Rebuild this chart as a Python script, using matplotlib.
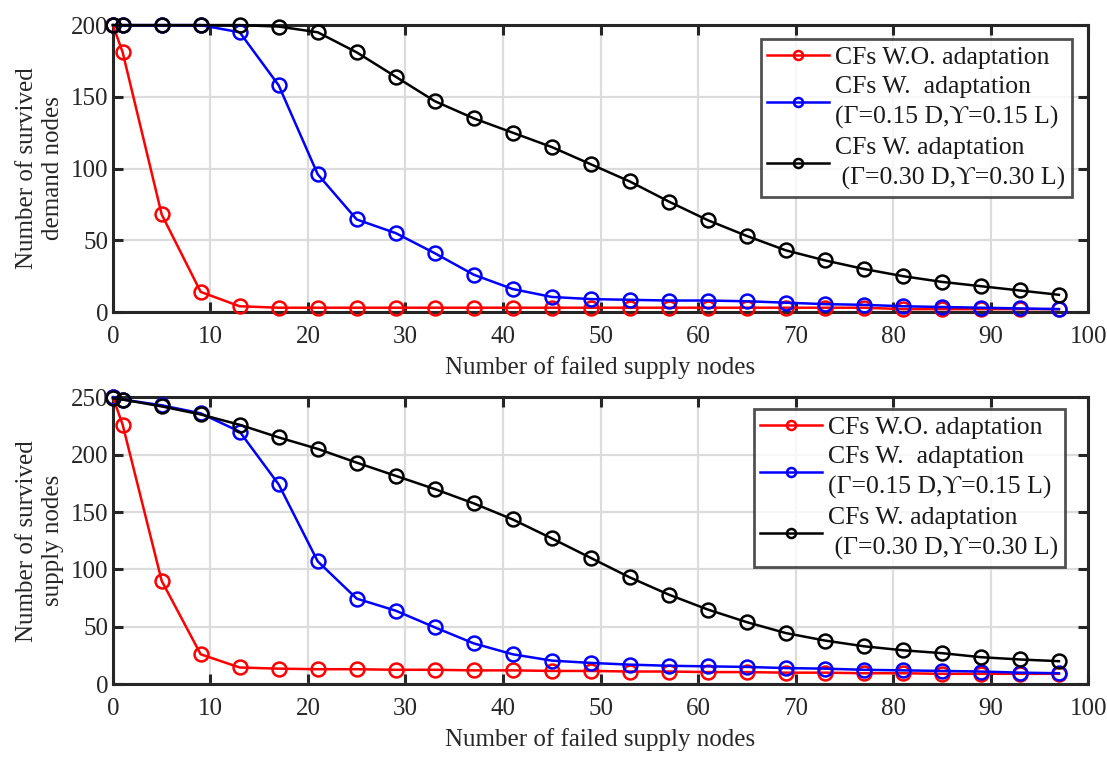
import numpy as np
import matplotlib
matplotlib.use("Agg")
import matplotlib.pyplot as plt

plt.rcParams['font.family'] = ['Liberation Serif', 'DejaVu Serif']

# failed supply nodes
failed = [0, 1, 5, 9, 13, 17, 21, 25, 29, 33, 37, 41, 45, 49, 53, 57, 61, 65, 69, 73, 77, 81, 85, 89, 93, 97]

# surviving demand nodes (top panel)
demand_wo = [200, 181, 68, 14, 4, 3, 3, 3, 3, 3, 3, 3, 3, 3, 3, 3, 3, 3, 3, 3, 3, 2, 2, 2, 2, 2]
demand_w15 = [200, 200, 200, 200, 195, 158, 96, 64.5, 55, 41, 26, 16, 10.5, 9, 8.5, 8, 8, 7.5, 6.5, 5.5, 5, 4, 3.5, 3, 2.5, 2]
demand_w30 = [200, 200, 200, 200, 200, 199, 195, 181, 164, 147, 135, 125, 115, 103, 91, 77, 64, 53, 43, 36, 30, 25, 21, 18, 15, 12]

# surviving supply nodes (bottom panel)
supply_wo = [250, 226, 90, 26, 14.5, 13.5, 13, 13, 12.5, 12.5, 12, 12, 11.5, 11.5, 11, 11, 10.5, 10.5, 10, 10, 9.5, 9.5, 9, 9, 9, 9]
supply_w15 = [250, 248, 243, 236, 220, 174, 107, 74.5, 64, 49.5, 35.5, 26, 20.5, 18.5, 17, 16, 15.5, 15, 14, 13.5, 12.5, 12, 11.5, 11, 10, 9.5]
supply_w30 = [249, 248, 242, 235, 226, 215, 205, 193, 181.5, 170, 157.5, 143.5, 127, 110, 93, 78, 65, 54, 44.5, 38, 33, 29.5, 27, 23.5, 21.5, 20]

labels = ["CFs W.O. adaptation",
          "CFs W.  adaptation\n(\u0393=0.15 D,\u03d2=0.15 L)",
          "CFs W. adaptation\n (\u0393=0.30 D,\u03d2=0.30 L)"]
colors = ["#ff0000", "#0000ff", "#000000"]

fig = plt.figure(figsize=(11.07, 7.61), dpi=100)
ax1 = fig.add_axes([0.102, 0.590, 0.881, 0.377])
ax2 = fig.add_axes([0.102, 0.101, 0.881, 0.377])


def style_axes(ax, ymax, ystep, ylabel):
    ax.set_xlim(0, 100)
    ax.set_ylim(0, ymax)
    ax.set_xticks(np.arange(0, 101, 10))
    ax.set_yticks(np.arange(0, ymax + 1, ystep))
    ax.grid(True, color="#dcdcdc", linewidth=1.6)
    ax.set_axisbelow(True)
    ax.tick_params(direction="in", top=True, right=True, length=7, width=2.2,
                   color="#262626", labelsize=18, labelcolor="#262626")
    ax.tick_params(axis="x", pad=10)
    ax.tick_params(axis="y", pad=3)
    for sp in ax.spines.values():
        sp.set_linewidth(2.2)
        sp.set_color("#262626")
    ax.set_xlabel("Number of failed supply nodes", fontsize=18, labelpad=6, color="#262626")
    ax.set_ylabel(ylabel, fontsize=18, linespacing=1.25, labelpad=5, color="#262626")


panels = [
    (ax1, [demand_wo, demand_w15, demand_w30], 200, "Number of survived\ndemand nodes", (0.983, 0.951)),
    (ax2, [supply_wo, supply_w15, supply_w30], 250, "Number of survived\nsupply nodes", (0.976, 0.958)),
]
for ax, series, ymax, ylabel, anchor in panels:
    style_axes(ax, ymax, 50, ylabel)
    for vals, c, lab in zip(series, colors, labels):
        ax.plot(failed, vals, color=c, marker="o", markersize=10, markerfacecolor="none",
                markeredgewidth=1.8, linewidth=1.8, label=lab, clip_on=False, zorder=3)
    leg = ax.legend(loc="upper right", bbox_to_anchor=anchor, borderaxespad=0,
                    fontsize=18.5, frameon=True, fancybox=False,
                    edgecolor="#262626", markerscale=0.65, handlelength=2.4,
                    labelspacing=0.3, handletextpad=0.25, borderpad=0.25)
    for t in leg.get_texts():
        t.set_linespacing(1.45)
        t.set_color("#1a1a1a")
    leg.get_frame().set_linewidth(2.0)
    leg.set_zorder(5)

fig.savefig("out.png", dpi=100)
